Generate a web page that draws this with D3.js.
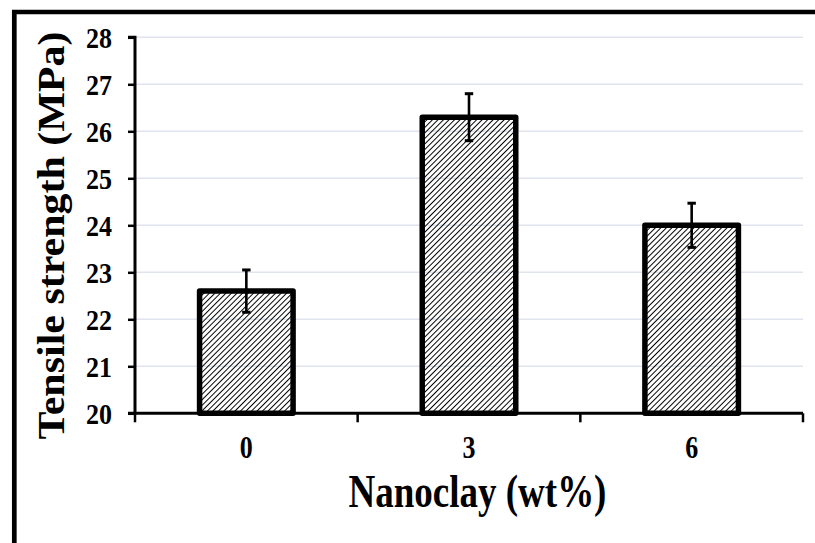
<!DOCTYPE html>
<html>
<head>
<meta charset="utf-8">
<script src="https://cdn.jsdelivr.net/npm/d3@7"></script>
<style>
	body { margin: 0; background: #fff; }
	svg { display: block; font-family: "Liberation Serif", "Times New Roman", serif; }
</style>
</head>
<body>
<div id="canvas"></div>
<script>
// values
const categories = ["0", "3", "6"];
const strength = [22.6, 26.3, 24.0];
const errors = [0.45, 0.5, 0.47];
const yTicks = [20, 21, 22, 23, 24, 25, 26, 27, 28];

const W = 815, H = 543;
const plotLeft = 135, plotRight = 803, plotTop = 37.3, plotBottom = 413.3;

const svg = d3.select("#canvas").append("svg")
	.attr("width", W).attr("height", H);

// hatch fill for the bars
const defs = svg.append("defs");
defs.append("pattern")
	.attr("id", "hatch")
	.attr("patternUnits", "userSpaceOnUse")
	.attr("width", 3.9).attr("height", 3.9)
	.attr("patternTransform", "rotate(45)")
	.append("line")
	.attr("x1", 0).attr("y1", 0).attr("x2", 0).attr("y2", 3.9)
	.attr("stroke", "#000").attr("stroke-width", 1.9)
	.attr("shape-rendering", "crispEdges");

// outer frame (only top and left visible)
svg.append("line").attr("x1", 12).attr("x2", W).attr("y1", 12).attr("y2", 12)
	.attr("stroke", "#000").attr("stroke-width", 4.7);
svg.append("line").attr("x1", 14.3).attr("x2", 14.3).attr("y1", 10).attr("y2", H)
	.attr("stroke", "#000").attr("stroke-width", 4.7);

const x = d3.scaleBand().domain(categories).range([plotLeft, plotRight])
	.paddingInner(0.58).paddingOuter(0.29);
const y = d3.scaleLinear().domain([20, 28]).range([plotBottom, plotTop]);

// gridlines
svg.append("g").selectAll("line")
	.data(yTicks.slice(1))
	.join("line")
	.attr("x1", plotLeft).attr("x2", plotRight)
	.attr("y1", d => y(d)).attr("y2", d => y(d))
	.attr("stroke", "#dfe4ee").attr("stroke-width", 1.5);

// bars
svg.append("g").selectAll("rect")
	.data(categories)
	.join("rect")
	.attr("x", d => x(d))
	.attr("width", x.bandwidth())
	.attr("y", (d, i) => y(strength[i]))
	.attr("height", (d, i) => y(20) - y(strength[i]))
	.attr("fill", "url(#hatch)")
	.attr("stroke", "#000")
	.attr("stroke-width", 5.5)
	.attr("stroke-linejoin", "round");

// error bars
const eb = svg.append("g").selectAll("g")
	.data(categories)
	.join("g")
	.attr("stroke", "#000");
eb.append("line")
	.attr("x1", d => x(d) + x.bandwidth() / 2).attr("x2", d => x(d) + x.bandwidth() / 2)
	.attr("y1", (d, i) => y(strength[i] + errors[i]))
	.attr("y2", (d, i) => y(strength[i] - errors[i]))
	.attr("stroke-width", 2.6);
eb.selectAll(".cap")
	.data((d, i) => [strength[i] + errors[i], strength[i] - errors[i]].map(v => ({ d, v })))
	.join("line")
	.attr("class", "cap")
	.attr("x1", o => x(o.d) + x.bandwidth() / 2 - 4.2)
	.attr("x2", o => x(o.d) + x.bandwidth() / 2 + 4.2)
	.attr("y1", o => y(o.v)).attr("y2", o => y(o.v))
	.attr("stroke-width", 3);

// y axis
const yAxis = svg.append("g")
	.attr("transform", `translate(${plotLeft},0)`)
	.call(d3.axisLeft(y).tickValues(yTicks).tickSize(7).tickPadding(16).tickFormat(d3.format("d")));
yAxis.select(".domain").attr("stroke-width", 3).attr("d", `M-7,${plotBottom}H0V${plotTop}H-7`);
yAxis.selectAll(".tick line").attr("stroke-width", 2.5);
yAxis.selectAll(".tick text")
	.attr("font-size", 26).attr("font-weight", "bold").attr("fill", "#000")
	.attr("font-family", "Liberation Serif, serif")
	.attr("x", 0).attr("dy", null).attr("y", 0)
	.attr("text-anchor", "end")
	.attr("transform", "translate(-23,9.7) scale(1,1.12)");

// x axis: line, boundary ticks, labels
svg.append("line").attr("x1", plotLeft - 1.5).attr("x2", plotRight)
	.attr("y1", plotBottom).attr("y2", plotBottom)
	.attr("stroke", "#000").attr("stroke-width", 3);
const bounds = d3.range(categories.length + 1).map(i => plotLeft + i * x.step());
svg.append("g").selectAll("line")
	.data(bounds)
	.join("line")
	.attr("x1", d => d).attr("x2", d => d)
	.attr("y1", plotBottom).attr("y2", plotBottom + 9)
	.attr("stroke", "#000").attr("stroke-width", 2.5);
svg.append("g").selectAll("text")
	.data(categories)
	.join("text")
	.attr("transform", d => `translate(${x(d) + x.bandwidth() / 2},458.3) scale(1,1.18)`)
	.attr("text-anchor", "middle")
	.attr("font-size", 26).attr("font-weight", "bold")
	.text(d => d);

// axis titles
svg.append("text")
	.attr("transform", "translate(477.5,506.7) scale(1,1.28)")
	.attr("text-anchor", "middle")
	.attr("font-size", 37).attr("font-weight", "bold")
	.text("Nanoclay (wt%)");

svg.append("text")
	.attr("transform", "translate(64,235.5) rotate(-90) scale(1.09,1)")
	.attr("text-anchor", "middle")
	.attr("font-size", 38.5).attr("font-weight", "bold")
	.text("Tensile strength (MPa)");
</script>
</body>
</html>
